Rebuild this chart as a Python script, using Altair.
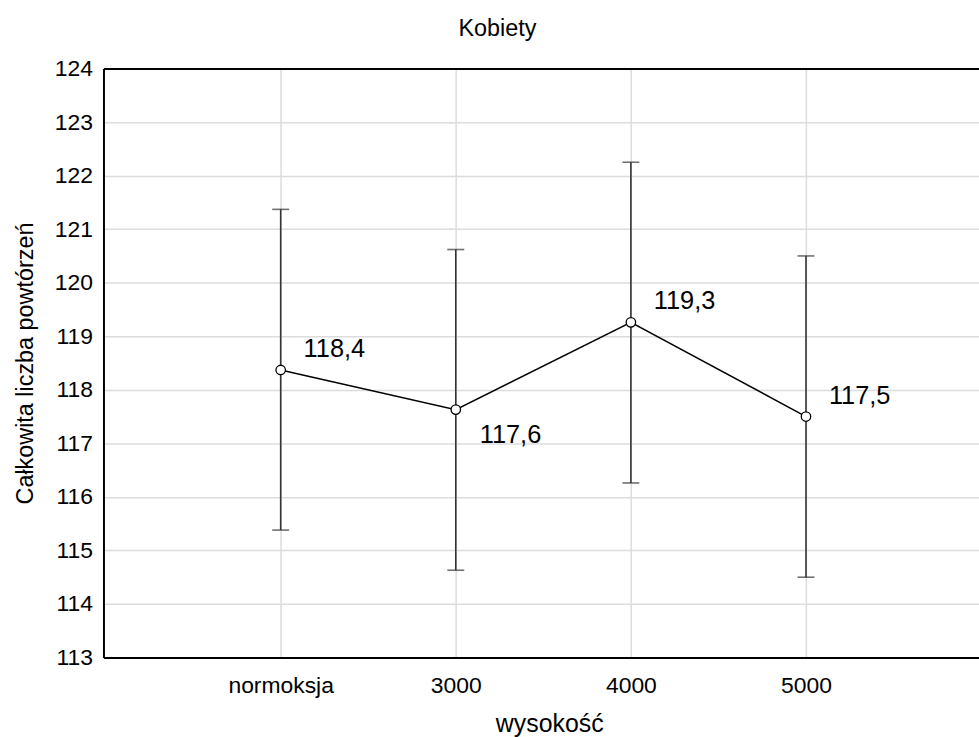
import altair as alt
import pandas as pd

categories = ["normoksja", "3000", "4000", "5000"]
positions = [1, 2, 3, 4]
means = [118.37, 117.63, 119.26, 117.50]
lower = [115.38, 114.63, 116.26, 114.50]
upper = [121.37, 120.62, 122.25, 120.50]
labels = ["118,4", "117,6", "119,3", "117,5"]
label_side = ["above", "below", "above", "above"]
y_ticks = list(range(113, 125))

df = pd.DataFrame({
    "cat": categories, "pos": positions, "mean": means,
    "lo": lower, "hi": upper, "label": labels, "side": label_side,
})

FONT = "Liberation Sans"
label_expr = ("datum.value == 1 ? 'normoksja' : datum.value == 2 ? '3000' : "
              "datum.value == 3 ? '4000' : datum.value == 4 ? '5000' : ''")

x = alt.X("pos:Q",
          scale=alt.Scale(domain=[-0.012, 4.988], nice=False, zero=False),
          axis=alt.Axis(values=positions, labelExpr=label_expr, title="wysokość",
                        grid=True, gridColor="#dcdcdc", gridWidth=1.5,
                        ticks=False, domain=True, domainColor="black", domainWidth=2,
                        labelFont=FONT, labelFontSize=23,
                        labelColor="black", labelPadding=17, labelFontWeight="normal",
                        titleFont=FONT, titleFontSize=25, titleFontWeight="normal",
                        titleColor="black", titlePadding=14, titleX=448))
y = alt.Y("mean:Q",
          scale=alt.Scale(domain=[113, 124], nice=False, zero=False),
          axis=alt.Axis(values=y_ticks, title="Całkowita liczba powtórzeń",
                        grid=True,
                        gridColor={"condition": {"test": "datum.value == 124", "value": "black"},
                                   "value": "#dcdcdc"},
                        gridWidth={"condition": {"test": "datum.value == 124", "value": 2},
                                   "value": 1.5},
                        ticks=False, domain=True, domainColor="black", domainWidth=2,
                        labelFont=FONT, labelFontSize=23,
                        labelColor="black", labelPadding=11,
                        titleFont=FONT, titleFontSize=23.5, titleFontWeight="normal",
                        titleColor="black", titlePadding=17))

base = alt.Chart(df)

bars = base.mark_rule(color="#333333", strokeWidth=1.6).encode(
    x=x, y=alt.Y("lo:Q"), y2="hi:Q")
cap_hi = base.mark_tick(color="#333333", thickness=1.6, size=17, orient="horizontal").encode(
    x=x, y=alt.Y("hi:Q"))
cap_lo = base.mark_tick(color="#333333", thickness=1.6, size=17, orient="horizontal").encode(
    x=x, y=alt.Y("lo:Q"))
line = base.mark_line(color="black", strokeWidth=1.5).encode(x=x, y=y)
pts = base.mark_point(shape="circle", size=90, filled=True, fill="white",
                      stroke="black", strokeWidth=1.3, opacity=1).encode(x=x, y=y)
txt_above = base.transform_filter(alt.datum.side == "above").mark_text(
    align="left", baseline="middle", dx=23, dy=-21, font=FONT, fontSize=25.5, color="black"
).encode(x=x, y=y, text="label:N")
txt_below = base.transform_filter(alt.datum.side == "below").mark_text(
    align="left", baseline="middle", dx=24, dy=26, font=FONT, fontSize=25.5, color="black"
).encode(x=x, y=y, text="label:N")

chart = alt.layer(bars, cap_hi, cap_lo, line, pts, txt_above, txt_below).properties(
    width=880, height=592,
    title=alt.TitleParams("Kobiety", font=FONT, fontSize=23.5, fontWeight="normal",
                          color="black", dx=-44, offset=17),
    autosize=alt.AutoSizeParams(type="none"),
    padding={"left": 104, "top": 67, "right": 0, "bottom": 78},
).configure_view(stroke="black", strokeWidth=2).configure(background="white")

chart.save("out.html", embed_options={"renderer": "svg", "actions": False})
